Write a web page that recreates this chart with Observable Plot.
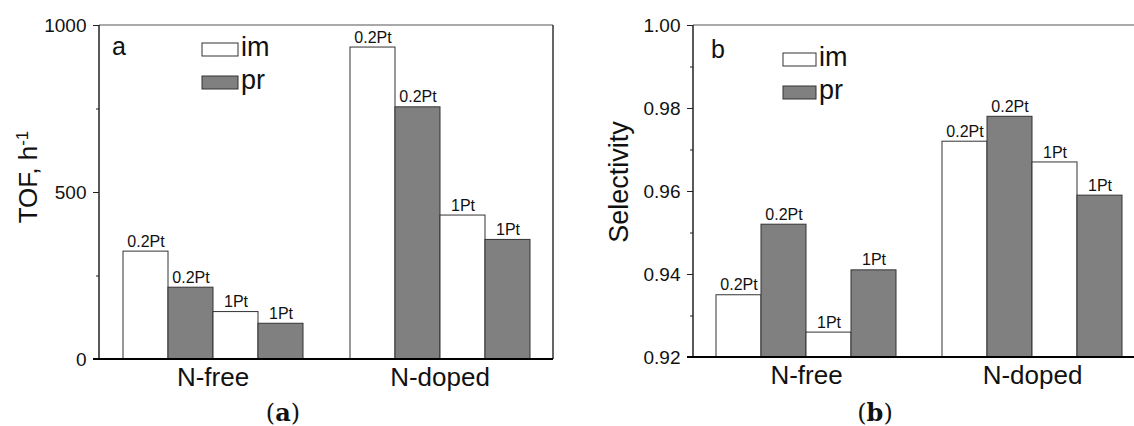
<!DOCTYPE html>
<html><head><meta charset="utf-8">
<script src="https://cdn.jsdelivr.net/npm/d3@7"></script>
<script src="https://cdn.jsdelivr.net/npm/@observablehq/plot@0.6"></script>
<style>
html,body{margin:0;padding:0;background:#fff;}
#wrap{position:relative;width:1134px;height:426px;overflow:hidden;font-family:"Liberation Sans",Arial,sans-serif;background:#fff;}
#wrap svg{position:absolute;top:0;}
</style></head><body><div id="wrap"></div>
<script>
// ---- data ----
const groups = ["N-free", "N-doped"];
const methods = ["im", "pr", "im", "pr"];
const loadings = ["0.2Pt", "0.2Pt", "1Pt", "1Pt"];
const tofNFree = [323, 215, 142, 107];
const tofNDoped = [934, 755, 431, 358];
const selNFree = [0.935, 0.952, 0.926, 0.941];
const selNDoped = [0.972, 0.978, 0.967, 0.959];
const tofTicks = [0, 500, 1000];
const tofMinor = [250, 750];
const selTicks = [0.92, 0.94, 0.96, 0.98, 1.00];
const selMinor = [0.93, 0.95, 0.97, 0.99];
const legendKeys = ["im", "pr"];
const legendFills = ["#ffffff", "#808080"];

const FONT = '"Liberation Sans", Arial, sans-serif';
const wrap = document.getElementById("wrap");
const H = 400;

function panel({left, width, mL, mR, mT, mB, series, ticks, minor, fmt}) {
  const slots = methods.map((m, i) => m + " " + loadings[i]);
  const rows = groups.flatMap((g, gi) => methods.map((m, i) => ({
    group: g, slot: slots[i], method: m, loading: loadings[i], value: series[gi][i]
  })));
  const plot = Plot.plot({
    width, height: H,
    marginLeft: mL, marginRight: mR, marginTop: mT, marginBottom: mB,
    style: {fontFamily: FONT, color: "#222", background: "transparent", overflow: "visible"},
    fx: {domain: groups, padding: 0, label: null},
    x: {domain: slots, paddingInner: 0, paddingOuter: 0.5, axis: null},
    y: {domain: [ticks[0], ticks[ticks.length - 1]], label: null},
    color: {domain: legendKeys, range: legendFills},
    marks: [
      Plot.barY(rows, {fx: "group", x: "slot", y1: ticks[0], y2: "value", fill: "method", stroke: "#333", strokeWidth: 1}),
      Plot.text(rows, {fx: "group", x: "slot", y: "value", text: "loading", dy: -10, fontSize: 16, fill: "#111"}),
      Plot.axisY({ticks, tickSize: 6, tickPadding: 7, tickFormat: fmt, fontSize: 19, label: null, fill: "#111"}),
      Plot.axisY({ticks: minor, tickSize: 3, tickFormat: () => "", label: null}),
      Plot.axisFx({anchor: "bottom", tickSize: 0, tickPadding: 8, fontSize: 26, label: null, fill: "#111"})
    ]
  });
  plot.style.left = left + "px";
  const svg = d3.select(plot);
  const x0 = mL, x1 = width - mR, y0 = mT, y1 = H - mB;
  const g = svg.append("g").attr("fill", "none");
  g.append("line").attr("x1", x0).attr("x2", x1).attr("y1", y0).attr("y2", y0).attr("stroke", "#555").attr("stroke-width", 1.2);
  g.append("line").attr("x1", x1).attr("x2", x1).attr("y1", y0).attr("y2", y1).attr("stroke", "#333").attr("stroke-width", 1.5);
  g.append("line").attr("x1", x0).attr("x2", x0).attr("y1", y0).attr("y2", y1).attr("stroke", "#222").attr("stroke-width", 1.5);
  g.append("line").attr("x1", x0 - 6).attr("x2", x1).attr("y1", y1).attr("y2", y1).attr("stroke", "#000").attr("stroke-width", 2);
  wrap.appendChild(plot);
}

panel({left: 0, width: 560, mL: 99, mR: 7, mT: 25, mB: 41,
  series: [tofNFree, tofNDoped], ticks: tofTicks, minor: tofMinor, fmt: d3.format("d")});
panel({left: 560, width: 590, mL: 133, mR: 5, mT: 25, mB: 43,
  series: [selNFree, selNDoped], ticks: selTicks, minor: selMinor, fmt: d3.format(".2f")});

// ---- overlay: axis titles, panel letters, legends, captions ----
const ov = d3.select(wrap).append("svg")
  .attr("width", 1134).attr("height", 426)
  .style("left", "0px").style("font-family", FONT).style("pointer-events", "none");

const yl = ov.append("text").attr("transform", "translate(37,177) rotate(-90)")
  .attr("text-anchor", "middle").attr("font-size", 26).attr("fill", "#111");
yl.append("tspan").text("TOF, h");
yl.append("tspan").attr("baseline-shift", "super").attr("font-size", 17).text("-1");

ov.append("text").attr("transform", "translate(628,182) rotate(-90)")
  .attr("text-anchor", "middle").attr("font-size", 27).attr("fill", "#111").text("Selectivity");

ov.append("text").attr("x", 112).attr("y", 55).attr("font-size", 25).attr("fill", "#111").text("a");
ov.append("text").attr("x", 711).attr("y", 58).attr("font-size", 25).attr("fill", "#111").text("b");

function legend(x, y, w, h, gap, tx) {
  legendKeys.forEach((k, i) => {
    ov.append("rect").attr("x", x).attr("y", y + i * gap).attr("width", w).attr("height", h)
      .attr("fill", legendFills[i]).attr("stroke", "#333").attr("stroke-width", 1);
    ov.append("text").attr("x", tx).attr("y", y + h + i * gap).attr("font-size", 27).attr("fill", "#111").text(k);
  });
}
legend(202, 43, 36, 13, 33, 241);
legend(783, 53, 33, 13, 33, 819);

function caption(x, letter) {
  const t = ov.append("text").attr("x", x).attr("y", 421).attr("text-anchor", "middle")
    .attr("font-family", '"DejaVu Serif", serif').attr("font-size", 24).attr("fill", "#111");
  t.append("tspan").text("(");
  t.append("tspan").attr("font-weight", "bold").text(letter);
  t.append("tspan").text(")");
}
caption(283, "a");
caption(875, "b");
</script>
</body></html>
